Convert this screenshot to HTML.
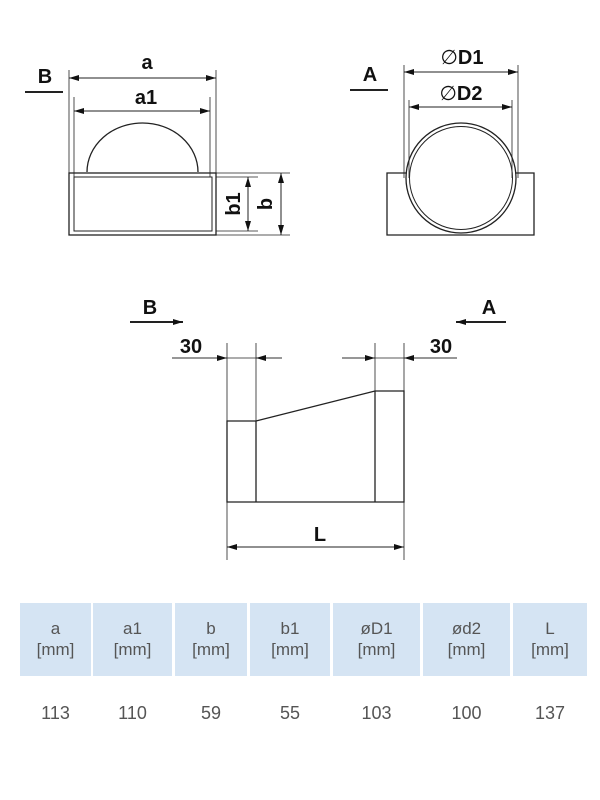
<!DOCTYPE html>
<html><head><style>
body{margin:0;background:#fff;width:600px;height:800px;overflow:hidden;font-family:"Liberation Sans",sans-serif}
.t{position:absolute;top:603px;height:73px;background:#d5e4f3;color:#555;font-size:17px;text-align:center;line-height:21px;box-sizing:border-box;padding-top:15px}
.v{position:absolute;top:703px;color:#555;font-size:18px;text-align:center}
</style></head><body>
<svg width="600" height="800" style="position:absolute;left:0;top:0" font-family="Liberation Sans, sans-serif" font-weight="bold">
<defs>
<marker id="ar" viewBox="0 0 10 6" refX="10" refY="3" markerWidth="10" markerHeight="6" markerUnits="userSpaceOnUse" orient="auto-start-reverse"><path d="M0,0L10,3L0,6z" fill="#111"/></marker>
</defs>
<g stroke="#222" stroke-width="1.3" fill="none">
<rect x="69" y="173" width="147" height="62"/>
<rect x="74" y="177" width="138" height="54" stroke-width="1"/>
<path d="M87,172 A55.5,49 0 0 1 198,172"/>
<g stroke-width="0.8">
<line x1="69" y1="70" x2="69" y2="173"/><line x1="216" y1="70" x2="216" y2="173"/>
<line x1="74" y1="97" x2="74" y2="177"/><line x1="210" y1="97" x2="210" y2="177"/>
<line x1="216" y1="177" x2="258" y2="177"/><line x1="216" y1="231" x2="258" y2="231"/>
<line x1="216" y1="173" x2="290" y2="173"/><line x1="216" y1="235" x2="290" y2="235"/>
</g>
<line x1="69" y1="78" x2="216" y2="78" stroke-width="1" marker-start="url(#ar)" marker-end="url(#ar)"/>
<line x1="74" y1="111" x2="210" y2="111" stroke-width="1" marker-start="url(#ar)" marker-end="url(#ar)"/>
<line x1="248" y1="177" x2="248" y2="231" stroke-width="1" marker-start="url(#ar)" marker-end="url(#ar)"/>
<line x1="281" y1="173" x2="281" y2="235" stroke-width="1" marker-start="url(#ar)" marker-end="url(#ar)"/>
<line x1="25" y1="92" x2="63" y2="92" stroke-width="2"/>
<path d="M407,173 H387 V235 H534 V173 H515"/>
<circle cx="461" cy="178" r="55"/>
<circle cx="461" cy="178" r="51.5" stroke-width="1"/>
<g stroke-width="0.8">
<line x1="404" y1="65" x2="404" y2="178"/><line x1="518" y1="65" x2="518" y2="178"/>
<line x1="409" y1="100" x2="409" y2="178"/><line x1="512" y1="100" x2="512" y2="178"/>
</g>
<line x1="404" y1="72" x2="518" y2="72" stroke-width="1" marker-start="url(#ar)" marker-end="url(#ar)"/>
<line x1="409" y1="107" x2="512" y2="107" stroke-width="1" marker-start="url(#ar)" marker-end="url(#ar)"/>
<line x1="350" y1="90" x2="388" y2="90" stroke-width="2"/>
<path d="M227,421 H256 L375,391 H404 V502 H227 Z"/>
<line x1="256" y1="421" x2="256" y2="502"/><line x1="375" y1="391" x2="375" y2="502"/>
<g stroke-width="0.8">
<line x1="227" y1="343" x2="227" y2="560"/><line x1="256" y1="343" x2="256" y2="421"/>
<line x1="375" y1="343" x2="375" y2="391"/><line x1="404" y1="343" x2="404" y2="560"/>
<line x1="172" y1="358" x2="282" y2="358"/>
<line x1="342" y1="358" x2="457" y2="358"/>
<line x1="172" y1="358" x2="227" y2="358" marker-end="url(#ar)"/>
<line x1="282" y1="358" x2="256" y2="358" marker-end="url(#ar)"/>
<line x1="342" y1="358" x2="375" y2="358" marker-end="url(#ar)"/>
<line x1="457" y1="358" x2="404" y2="358" marker-end="url(#ar)"/>
</g>
<line x1="227" y1="547" x2="404" y2="547" stroke-width="1" marker-start="url(#ar)" marker-end="url(#ar)"/>
<line x1="130" y1="322" x2="183" y2="322" stroke-width="2" marker-end="url(#ar)"/>
<line x1="506" y1="322" x2="456" y2="322" stroke-width="2" marker-end="url(#ar)"/>
</g>
<g fill="#111" font-size="20" text-anchor="middle">
<text x="147" y="69">a</text>
<text x="146" y="104">a1</text>
<text x="45" y="83">B</text>
<text x="240" y="204" transform="rotate(-90 240 204)">b1</text>
<text x="272" y="204" transform="rotate(-90 272 204)">b</text>
<text x="370" y="81">A</text>
<text x="462" y="64"><tspan font-weight="normal">∅</tspan>D1</text>
<text x="461" y="100"><tspan font-weight="normal">∅</tspan>D2</text>
<text x="150" y="314">B</text>
<text x="489" y="314">A</text>
<text x="191" y="353">30</text>
<text x="441" y="353">30</text>
<text x="320" y="541">L</text>
</g>
</svg>
<div class="t" style="left:20px;width:71px">a<br>[mm]</div>
<div class="t" style="left:93px;width:79px">a1<br>[mm]</div>
<div class="t" style="left:175px;width:72px">b<br>[mm]</div>
<div class="t" style="left:250px;width:80px">b1<br>[mm]</div>
<div class="t" style="left:333px;width:87px">øD1<br>[mm]</div>
<div class="t" style="left:423px;width:87px">ød2<br>[mm]</div>
<div class="t" style="left:513px;width:74px">L<br>[mm]</div>
<div class="v" style="left:20px;width:71px">113</div>
<div class="v" style="left:93px;width:79px">110</div>
<div class="v" style="left:175px;width:72px">59</div>
<div class="v" style="left:250px;width:80px">55</div>
<div class="v" style="left:333px;width:87px">103</div>
<div class="v" style="left:423px;width:87px">100</div>
<div class="v" style="left:513px;width:74px">137</div>
</body></html>
